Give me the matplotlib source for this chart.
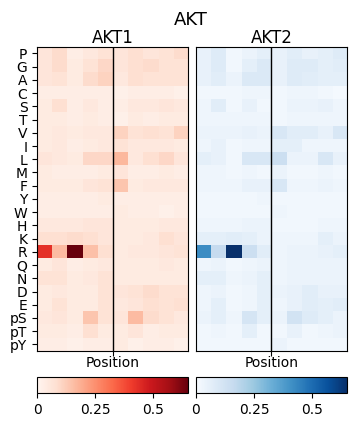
import numpy as np
import matplotlib
matplotlib.use('Agg')
import matplotlib.pyplot as plt

residues = ['P', 'G', 'A', 'C', 'S', 'T', 'V', 'I', 'L', 'M', 'F', 'Y', 'W',
            'H', 'K', 'R', 'Q', 'N', 'D', 'E', 'pS', 'pT', 'pY']
kinases = ['AKT1', 'AKT2']

akt1 = np.array([
    [0.06, 0.09, 0.03, 0.05, 0.07, 0.06, 0.08, 0.06, 0.07, 0.09],
    [0.06, 0.09, 0.04, 0.07, 0.10, 0.06, 0.08, 0.09, 0.07, 0.07],
    [0.06, 0.07, 0.04, 0.09, 0.11, 0.05, 0.08, 0.07, 0.07, 0.07],
    [0.03, 0.03, 0.03, 0.03, 0.03, 0.02, 0.03, 0.03, 0.03, 0.02],
    [0.04, 0.08, 0.03, 0.05, 0.03, 0.03, 0.05, 0.05, 0.06, 0.05],
    [0.04, 0.04, 0.03, 0.04, 0.03, 0.02, 0.04, 0.03, 0.04, 0.04],
    [0.04, 0.05, 0.04, 0.05, 0.05, 0.11, 0.07, 0.08, 0.07, 0.11],
    [0.04, 0.05, 0.03, 0.04, 0.05, 0.07, 0.05, 0.05, 0.05, 0.04],
    [0.06, 0.05, 0.04, 0.10, 0.10, 0.17, 0.05, 0.08, 0.10, 0.06],
    [0.04, 0.03, 0.03, 0.03, 0.04, 0.06, 0.03, 0.03, 0.04, 0.03],
    [0.04, 0.04, 0.04, 0.06, 0.07, 0.14, 0.04, 0.05, 0.05, 0.05],
    [0.03, 0.03, 0.03, 0.03, 0.04, 0.03, 0.03, 0.03, 0.03, 0.03],
    [0.03, 0.03, 0.03, 0.03, 0.03, 0.04, 0.03, 0.03, 0.02, 0.03],
    [0.05, 0.05, 0.05, 0.06, 0.06, 0.04, 0.04, 0.04, 0.05, 0.05],
    [0.08, 0.08, 0.09, 0.08, 0.06, 0.04, 0.04, 0.05, 0.08, 0.06],
    [0.43, 0.16, 0.65, 0.15, 0.08, 0.04, 0.05, 0.05, 0.06, 0.07],
    [0.04, 0.06, 0.03, 0.04, 0.05, 0.04, 0.04, 0.04, 0.05, 0.04],
    [0.07, 0.07, 0.04, 0.05, 0.07, 0.04, 0.04, 0.04, 0.04, 0.04],
    [0.04, 0.05, 0.04, 0.04, 0.07, 0.06, 0.07, 0.09, 0.07, 0.07],
    [0.04, 0.07, 0.04, 0.04, 0.07, 0.05, 0.06, 0.08, 0.07, 0.08],
    [0.05, 0.06, 0.04, 0.14, 0.07, 0.06, 0.16, 0.09, 0.07, 0.05],
    [0.04, 0.04, 0.03, 0.08, 0.04, 0.04, 0.06, 0.03, 0.04, 0.04],
    [0.03, 0.03, 0.02, 0.03, 0.03, 0.04, 0.02, 0.03, 0.03, 0.02],
])

akt2 = np.array([
    [0.05, 0.08, 0.02, 0.04, 0.06, 0.05, 0.07, 0.05, 0.06, 0.08],
    [0.05, 0.08, 0.02, 0.06, 0.09, 0.05, 0.08, 0.08, 0.06, 0.07],
    [0.05, 0.07, 0.04, 0.09, 0.09, 0.05, 0.08, 0.07, 0.06, 0.06],
    [0.02, 0.02, 0.02, 0.03, 0.03, 0.02, 0.03, 0.03, 0.02, 0.01],
    [0.03, 0.07, 0.02, 0.05, 0.02, 0.02, 0.04, 0.04, 0.05, 0.03],
    [0.03, 0.03, 0.03, 0.03, 0.03, 0.02, 0.03, 0.03, 0.03, 0.03],
    [0.04, 0.04, 0.04, 0.05, 0.04, 0.10, 0.07, 0.07, 0.05, 0.10],
    [0.03, 0.05, 0.02, 0.03, 0.03, 0.06, 0.06, 0.03, 0.03, 0.03],
    [0.06, 0.05, 0.02, 0.10, 0.10, 0.14, 0.04, 0.04, 0.10, 0.05],
    [0.03, 0.03, 0.02, 0.03, 0.02, 0.04, 0.02, 0.02, 0.03, 0.02],
    [0.03, 0.03, 0.03, 0.05, 0.05, 0.10, 0.03, 0.03, 0.04, 0.03],
    [0.02, 0.02, 0.02, 0.02, 0.03, 0.02, 0.02, 0.02, 0.02, 0.02],
    [0.02, 0.02, 0.02, 0.02, 0.02, 0.03, 0.02, 0.02, 0.02, 0.02],
    [0.03, 0.03, 0.03, 0.04, 0.04, 0.02, 0.02, 0.02, 0.03, 0.03],
    [0.06, 0.06, 0.07, 0.06, 0.04, 0.03, 0.03, 0.03, 0.06, 0.04],
    [0.42, 0.16, 0.65, 0.14, 0.07, 0.03, 0.04, 0.04, 0.05, 0.06],
    [0.03, 0.04, 0.02, 0.03, 0.04, 0.03, 0.04, 0.04, 0.04, 0.04],
    [0.06, 0.06, 0.03, 0.04, 0.06, 0.03, 0.04, 0.04, 0.04, 0.04],
    [0.03, 0.04, 0.02, 0.03, 0.06, 0.04, 0.05, 0.07, 0.05, 0.05],
    [0.03, 0.06, 0.02, 0.03, 0.06, 0.03, 0.05, 0.07, 0.06, 0.07],
    [0.04, 0.06, 0.03, 0.11, 0.06, 0.04, 0.12, 0.08, 0.06, 0.04],
    [0.02, 0.03, 0.02, 0.06, 0.02, 0.02, 0.05, 0.02, 0.03, 0.04],
    [0.02, 0.02, 0.02, 0.02, 0.02, 0.04, 0.02, 0.02, 0.02, 0.02],
])

cmaps = ['Reds', 'Blues']
vmax = 0.65
cbar_ticks = [0, 0.25, 0.5]
cbar_labels = ['0', '0.25', '0.5']

fig = plt.figure(figsize=(3.57, 4.26), dpi=100)
lefts = [0.104, 0.549]
for i, (name, data, cmap) in enumerate(zip(kinases, [akt1, akt2], cmaps)):
    ax = fig.add_axes([lefts[i], 0.176, 0.423, 0.714])
    im = ax.imshow(data, cmap=cmap, vmin=0, vmax=vmax, aspect='auto',
                   interpolation='nearest')
    ax.axvline(data.shape[1] / 2 - 0.5, color='black', lw=1)
    ax.set_title(name, fontsize=12, pad=3)
    ax.set_xticks([data.shape[1] / 2 - 0.5])
    ax.tick_params(axis='x', labelbottom=False)
    ax.set_xlabel('Position', fontsize=10, labelpad=0)
    if i == 0:
        ax.set_yticks(range(len(residues)))
        ax.set_yticklabels(residues, fontsize=10)
    else:
        ax.set_yticks([])
    cax = fig.add_axes([lefts[i], 0.0775, 0.423, 0.038])
    cb = fig.colorbar(im, cax=cax, orientation='horizontal', ticks=cbar_ticks)
    cb.ax.set_xticklabels(cbar_labels, fontsize=10)

fig.suptitle('AKT', fontsize=13, x=0.535, y=0.975)
fig.savefig('out.png', dpi=100)
